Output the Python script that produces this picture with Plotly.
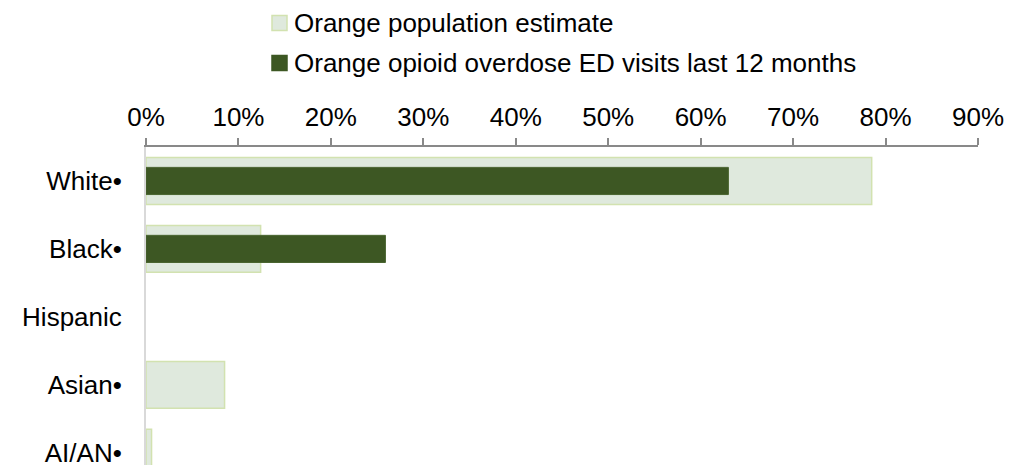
import plotly.graph_objects as go

groups = ["White•", "Black•", "Hispanic", "Asian•", "AI/AN•"]
population_pct = [0.785, 0.124, None, 0.085, 0.006]
ed_visits_pct = [0.63, 0.259, None, None, None]
x_ticks = [0, 0.1, 0.2, 0.3, 0.4, 0.5, 0.6, 0.7, 0.8, 0.9]

FONT = "Liberation Sans, Arial, sans-serif"
POP_FILL, POP_LINE = "#dfe9dd", "#d2e2b0"
ED_FILL, ED_LINE = "#3d5723", "#4a6530"

# page body adds an 8px offset, so the figure is sized 8px smaller
W, H = 1020, 457
M = dict(l=138, r=50, t=139, b=0)
PW, PH = W - M["l"] - M["r"], H - M["t"] - M["b"]


def _px(x, y):
    """figure pixels -> paper coords (legend keys sit above the plot area)"""
    return (x - M["l"]) / PW, 1 + (M["t"] - y) / PH


fig = go.Figure()
fig.add_trace(go.Bar(
    y=groups, x=population_pct, orientation="h", width=0.69,
    name="Orange population estimate",
    marker=dict(color=POP_FILL, line=dict(color=POP_LINE, width=1.5)),
))
fig.add_trace(go.Bar(
    y=groups, x=ed_visits_pct, orientation="h", width=0.4,
    name="Orange opioid overdose ED visits last 12 months",
    marker=dict(color=ED_FILL, line=dict(color=ED_LINE, width=1)),
))

# hand-made legend so it can sit right at the top edge
for tr, ymid, fill, line in [(fig.data[0], 15, POP_FILL, POP_LINE), (fig.data[1], 55, ED_FILL, ED_FILL)]:
    x0, y0 = _px(264, ymid - 7.5)
    x1, y1 = _px(279, ymid + 7.5)
    fig.add_shape(type="rect", xref="paper", yref="paper", x0=x0, x1=x1, y0=y1, y1=y0,
                  fillcolor=fill, line=dict(color=line, width=1.5))
    tx, ty = _px(284, ymid)
    fig.add_annotation(text=tr.name, xref="paper", yref="paper", x=tx, y=ty,
                       xanchor="left", yanchor="middle", showarrow=False,
                       font=dict(size=26))

fig.update_layout(
    width=W, height=H, margin=M,
    paper_bgcolor="white", plot_bgcolor="white",
    barmode="overlay", showlegend=False,
    font=dict(family=FONT, size=26, color="#000000"),
    xaxis=dict(
        side="top", range=[0, 0.9], tickvals=x_ticks, tickformat=".0%",
        showgrid=False, zeroline=False, showline=True, linecolor="#898989", linewidth=2,
        ticks="outside", ticklen=7, tickwidth=2, tickcolor="#898989",
        ticklabelstandoff=2, fixedrange=True, automargin=False,
    ),
    yaxis=dict(
        range=[4.18, -0.5], showgrid=False, zeroline=False,
        showline=True, linecolor="#d9d9d9", linewidth=2,
        ticks="", ticklabelstandoff=17, fixedrange=True, automargin=False,
    ),
)

fig.write_html("out.html")
